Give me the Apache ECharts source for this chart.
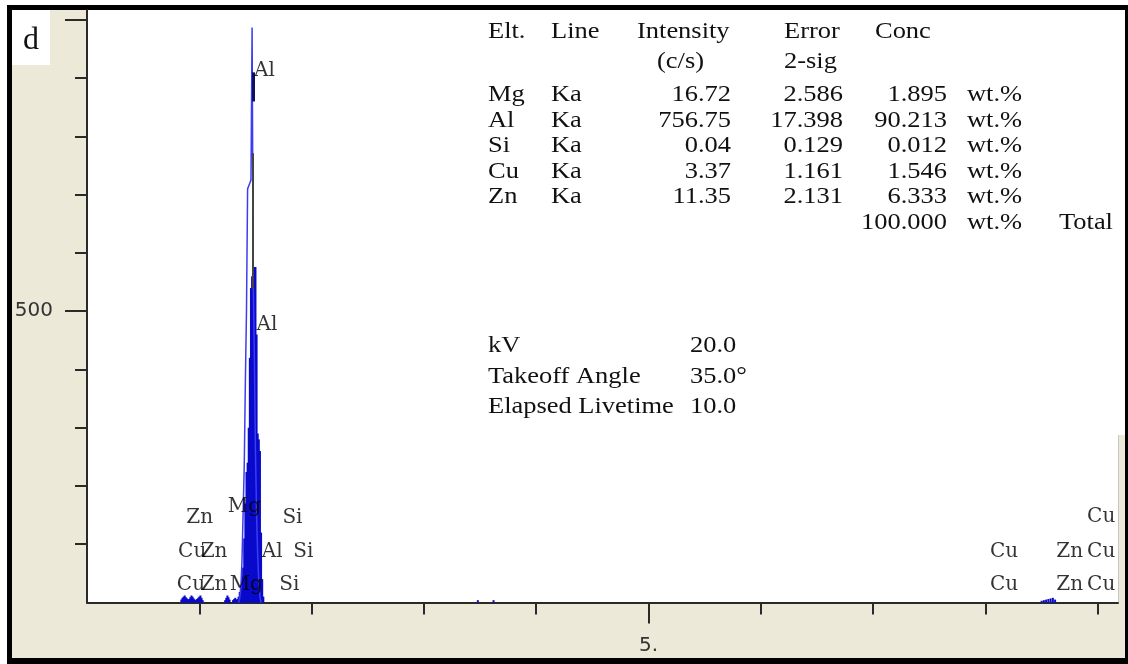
<!DOCTYPE html>
<html>
<head>
<meta charset="utf-8">
<script src="https://cdn.jsdelivr.net/npm/echarts@6/dist/echarts.min.js"></script>
<style>
  html, body { margin: 0; padding: 0; background: #fff; }
  #chart { width: 1128px; height: 664px; }
</style>
</head>
<body>
<div id="chart"></div>
<script>
// EDS spectrum, sample d: energy (keV) vs counts

// Filled spectrum channels (keV, counts)
const bodyEnergy = [0.84, 0.85, 0.86, 0.87, 0.88, 0.89, 0.90, 0.91, 0.92, 0.93, 0.94, 0.95, 0.96, 0.97, 0.98, 0.99, 1.00, 1.01, 1.02, 1.03,
  1.23, 1.24, 1.25, 1.26, 1.27, 1.30, 1.31, 1.32, 1.33,
  1.34, 1.35, 1.36, 1.37, 1.38, 1.39, 1.40, 1.41, 1.42, 1.43, 1.44, 1.45, 1.46, 1.47, 1.48, 1.49, 1.50, 1.51, 1.52, 1.53, 1.54, 1.55, 1.56, 1.57,
  3.48, 3.62,
  8.50, 8.52, 8.54, 8.56, 8.58, 8.60, 8.62];
const bodyCounts = [5, 8, 10, 12, 9, 7, 5, 6, 9, 12, 10, 7, 5, 4, 6, 8, 10, 12, 8, 4,
  4, 8, 12, 9, 5, 4, 6, 8, 5,
  6, 10, 18, 28, 45, 60, 110, 170, 224, 240, 300, 420, 540, 560, 576, 576, 576, 460, 290, 280, 260, 120, 40, 10,
  4, 4,
  3, 4, 5, 6, 7, 8, 5];

// Overlay spectrum outline around the Al K peak (keV, counts)
const outlineEnergy = [1.35, 1.36, 1.37, 1.38, 1.39, 1.40, 1.41, 1.42, 1.43, 1.44, 1.45, 1.46, 1.47, 1.48, 1.49, 1.50, 1.51, 1.52, 1.53, 1.54, 1.55];
const outlineCounts = [0, 8, 25, 72, 153, 233, 378, 500, 710, 715, 720, 725, 987, 560, 420, 260, 150, 80, 35, 10, 0];

// Al marker segments (keV, from counts, to counts)
const alMarkerGray = [1.474, 538, 771];
const alMarkerDark = [1.476, 860, 910];

// Element line labels: text, energy (keV), height (counts)
const peakLabelText   = ['Zn', 'Mg', 'Si', 'Cu',
                         'Cu', 'Zn', 'Al', 'Si', 'Cu', 'Zn', 'Cu',
                         'Cu', 'Zn', 'Mg', 'Si', 'Cu', 'Zn', 'Cu',
                         'Al', 'Al'];
const peakLabelEnergy = [0.884, 1.254, 1.740, 8.905,
                         0.811, 1.012, 1.557, 1.836, 8.040, 8.631, 8.905,
                         0.800, 1.012, 1.270, 1.712, 8.040, 8.631, 8.905,
                         1.487, 1.510];
const peakLabelCounts = [145, 164, 145, 147,
                         87, 87, 87, 87, 87, 87, 87,
                         30, 30, 30, 30, 30, 30, 30,
                         912, 477];

// Axis ticks
const xMinorTicks = [1, 2, 3, 4, 6, 7, 8, 9];
const xMajorTicks = [5];
const yMinorTicks = [100, 200, 300, 400, 600, 700, 800, 900];
const yMajorTicks = [500, 1000];
const yLabelTicks = [500];

// Quantification table
const tableHeader1 = ['Elt.', 'Line', 'Intensity', 'Error', 'Conc'];
const tableHeader2 = ['(c/s)', '2-sig'];
const elements   = ['Mg', 'Al', 'Si', 'Cu', 'Zn'];
const lines      = ['Ka', 'Ka', 'Ka', 'Ka', 'Ka'];
const intensity  = [16.72, 756.75, 0.04, 3.37, 11.35];
const error2sig  = [2.586, 17.398, 0.129, 1.161, 2.131];
const concWt     = [1.895, 90.213, 0.012, 1.546, 6.333];
const concTotal  = 100.000;
const unitText   = 'wt.%';
const acqNames   = ['kV', 'Takeoff Angle', 'Elapsed Livetime'];
const acqValues  = ['20.0', '35.0°', '10.0'];

const BEIGE = '#ECE9D8';
const INK = '#111';
const AXIS = '#2a2a2a';
const TABLE_FONT = '23px "Liberation Serif", "Times New Roman", serif';
const SX = 1.15;

function tText(str, x, y, align) {
  return {
    type: 'text', x: x, y: y, scaleX: SX, z: 20, silent: true,
    style: { text: str, font: TABLE_FONT, fill: INK, align: align || 'left', verticalAlign: 'middle' }
  };
}

const graphics = [
  { type: 'rect', z: -10, silent: true, shape: { x: 7, y: 5, width: 1121, height: 659 }, style: { fill: '#000' } },
  { type: 'rect', z: -9, silent: true, shape: { x: 12, y: 10, width: 1113, height: 648 }, style: { fill: BEIGE } },
  { type: 'rect', z: -8, silent: true, shape: { x: 87, y: 10, width: 1031, height: 592.5 }, style: { fill: '#fff' } },
  { type: 'rect', z: -8, silent: true, shape: { x: 1117, y: 10, width: 8, height: 425 }, style: { fill: '#fff' } },
  { type: 'line', z: -7, silent: true, shape: { x1: 1118.5, y1: 435, x2: 1118.5, y2: 602 }, style: { stroke: '#c9c7bb', lineWidth: 1 } },
  { type: 'rect', z: -8, silent: true, shape: { x: 12, y: 10, width: 38, height: 55 }, style: { fill: '#fff' } },
  { type: 'text', z: 20, silent: true, x: 31, y: 41,
    style: { text: 'd', font: '32px "Liberation Serif", serif', fill: INK, align: 'center', verticalAlign: 'middle' } }
];

// table layout (pixel columns / row centres)
const colElt = 488, colLine = 551, colInt = 637, colIntR = 731, colCps = 657;
const colErr = 784, colErrR = 843, colConc = 875, colConcR = 947, colUnit = 967, colTotal = 1059;
const rowHead1 = 32, rowHead2 = 62, rowFirst = 95, rowStep = 25.6;
const colAcqVal = 690, rowAcq = [346, 377, 407];

graphics.push(tText(tableHeader1[0], colElt, rowHead1));
graphics.push(tText(tableHeader1[1], colLine, rowHead1));
graphics.push(tText(tableHeader1[2], colInt, rowHead1));
graphics.push(tText(tableHeader1[3], colErr, rowHead1));
graphics.push(tText(tableHeader1[4], colConc, rowHead1));
graphics.push(tText(tableHeader2[0], colCps, rowHead2));
graphics.push(tText(tableHeader2[1], colErr, rowHead2));
elements.forEach(function (el, i) {
  const y = rowFirst + i * rowStep;
  graphics.push(tText(el, colElt, y));
  graphics.push(tText(lines[i], colLine, y));
  graphics.push(tText(intensity[i].toFixed(2), colIntR, y, 'right'));
  graphics.push(tText(error2sig[i].toFixed(3), colErrR, y, 'right'));
  graphics.push(tText(concWt[i].toFixed(3), colConcR, y, 'right'));
  graphics.push(tText(unitText, colUnit, y));
});
const yTot = rowFirst + elements.length * rowStep;
graphics.push(tText(concTotal.toFixed(3), colConcR, yTot, 'right'));
graphics.push(tText(unitText, colUnit, yTot));
graphics.push(tText('Total', colTotal, yTot));
acqNames.forEach(function (n, i) {
  graphics.push(tText(n, colElt, rowAcq[i]));
  graphics.push(tText(acqValues[i], colAcqVal, rowAcq[i]));
});

const chart = echarts.init(document.getElementById('chart'), null, { renderer: 'canvas' });

const axisLineStyle = { color: AXIS, width: 2 };
const tickStyle = { color: AXIS, width: 2 };

const option = {
  backgroundColor: '#fff',
  animation: false,
  graphic: graphics,
  grid: { left: 87, right: 10, top: 10, bottom: 61.5, containLabel: false },
  xAxis: [
    {
      type: 'value', min: 0, max: 9.18, position: 'bottom',
      axisLine: { show: true, onZero: false, lineStyle: axisLineStyle },
      axisTick: { show: true, customValues: xMinorTicks, length: 12, lineStyle: tickStyle },
      axisLabel: { show: false },
      splitLine: { show: false }
    },
    {
      type: 'value', min: 0, max: 9.18, position: 'bottom',
      axisLine: { show: false, onZero: false },
      axisTick: { show: true, customValues: xMajorTicks, length: 21, lineStyle: tickStyle },
      axisLabel: {
        show: true, customValues: xMajorTicks, margin: 33,
        formatter: function (v) { return v + '.'; },
        color: '#333', fontFamily: 'DejaVu Sans', fontSize: 20
      },
      splitLine: { show: false }
    }
  ],
  yAxis: [
    {
      type: 'value', min: 0, max: 1017, position: 'left',
      axisLine: { show: true, onZero: false, lineStyle: axisLineStyle },
      axisTick: { show: true, customValues: yMinorTicks, length: 12, lineStyle: tickStyle },
      axisLabel: { show: false },
      splitLine: { show: false }
    },
    {
      type: 'value', min: 0, max: 1017, position: 'left',
      axisLine: { show: false, onZero: false },
      axisTick: { show: true, customValues: yMajorTicks, length: 22, lineStyle: tickStyle },
      axisLabel: {
        show: true, customValues: yLabelTicks, margin: 34,
        color: '#333', fontFamily: 'DejaVu Sans', fontSize: 20
      },
      splitLine: { show: false }
    }
  ],
  series: [
    {
      name: 'spectrum', type: 'bar', xAxisIndex: 0, yAxisIndex: 0,
      data: bodyEnergy.map(function (e, i) { return [e, bodyCounts[i]]; }),
      barWidth: 2, silent: true, z: 2,
      itemStyle: { color: '#0a0acb' }
    },
    {
      name: 'overlay', type: 'line', xAxisIndex: 0, yAxisIndex: 0,
      data: outlineEnergy.map(function (e, i) { return [e, outlineCounts[i]]; }),
      step: 'end', showSymbol: false, silent: true, z: 3,
      lineStyle: { color: '#3c3cf2', width: 1.5 },
      markLine: {
        silent: true, symbol: ['none', 'none'], label: { show: false },
        data: [
          [{ coord: [alMarkerGray[0], alMarkerGray[1]], lineStyle: { color: '#444', width: 2, type: 'solid' } },
           { coord: [alMarkerGray[0], alMarkerGray[2]] }],
          [{ coord: [alMarkerDark[0], alMarkerDark[1]], lineStyle: { color: '#101060', width: 3, type: 'solid' } },
           { coord: [alMarkerDark[0], alMarkerDark[2]] }]
        ]
      }
    },
    {
      name: 'lines', type: 'scatter', xAxisIndex: 0, yAxisIndex: 0,
      symbolSize: 0, silent: true, z: 5,
      data: peakLabelText.map(function (t, i) {
        return { name: t, value: [peakLabelEnergy[i], peakLabelCounts[i]] };
      }),
      label: {
        show: true, position: 'right', distance: 0,
        formatter: function (p) { return p.name; },
        color: '#000', fontFamily: 'DejaVu Serif', fontSize: 20
      }
    }
  ]
};

chart.setOption(option);
</script>
</body>
</html>
